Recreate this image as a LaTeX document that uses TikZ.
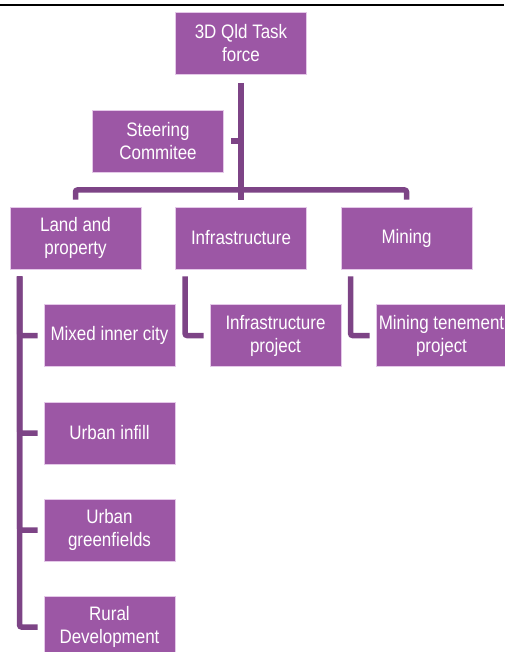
\documentclass[tikz,border=0pt]{standalone}
\usepackage{fontspec}
\setmainfont{Liberation Sans}[FakeStretch=0.87]
\usetikzlibrary{calc}
\definecolor{boxpurple}{RGB}{156,87,165}
\definecolor{linepurple}{RGB}{125,68,134}
\definecolor{edgelilac}{RGB}{228,200,232}
\tikzset{
	unit/.style={draw=edgelilac, line width=0.8pt, fill=boxpurple, text=white, minimum width=131pt, minimum height=62pt, inner sep=0pt, align=center, font=\fontsize{19.5}{23}\selectfont},
	link/.style={draw=linepurple, line width=5.5pt, rounded corners=2pt}
}

\begin{document}
\begin{tikzpicture}[x=1pt,y=-1pt]
	\useasboundingbox (0,0) rectangle (504,652);
	\draw[line width=2.5pt] (0,5)--(504,5);
	\node[unit] (task) at (241,43.5) {3D Qld Task\\force};
	\node[unit] (steer) at (158,141) {Steering\\Commitee};
	\node[unit] (land) at (75.5,238) {Land and\\property};
	\node[unit] (infra) at (241,238) {Infrastructure};
	\node[unit] (mining) at (406.5,238) {Mining};
	\node[unit] (mixed) at (109.5,335.5) {Mixed inner city};
	\node[unit] (infraproj) at (275.5,335.5) {Infrastructure\\project};
	\node[unit] (minproj) at (441.5,335.5) {Mining tenement\\project};
	\node[unit] (infill) at (109.5,433) {Urban infill};
	\node[unit] (green) at (109.5,530) {Urban\\greenfields};
	\node[unit] (rural) at (109.5,627) {Rural\\Development};
	\coordinate (bar) at (241,190);
	\draw[link] ([yshift=-8pt]task.south) -- ([yshift=7pt]infra.north);
	\draw[link] ([xshift=7pt]steer.east) -- (steer.east -| task.south);
	\draw[link] ([yshift=7pt]land.north) |- (bar) -| ([yshift=7pt]mining.north);
	\coordinate (landspine) at ([xshift=10pt,yshift=-7pt]land.south west);
	\foreach \sub in {mixed,infill,green,rural}
		\draw[link] (landspine) |- ([xshift=-6pt]\sub.west);
	\draw[link] ([xshift=10pt,yshift=-7pt]infra.south west) |- ([xshift=-6pt]infraproj.west);
	\draw[link] ([xshift=10pt,yshift=-7pt]mining.south west) |- ([xshift=-6pt]minproj.west);
\end{tikzpicture}
\end{document}
